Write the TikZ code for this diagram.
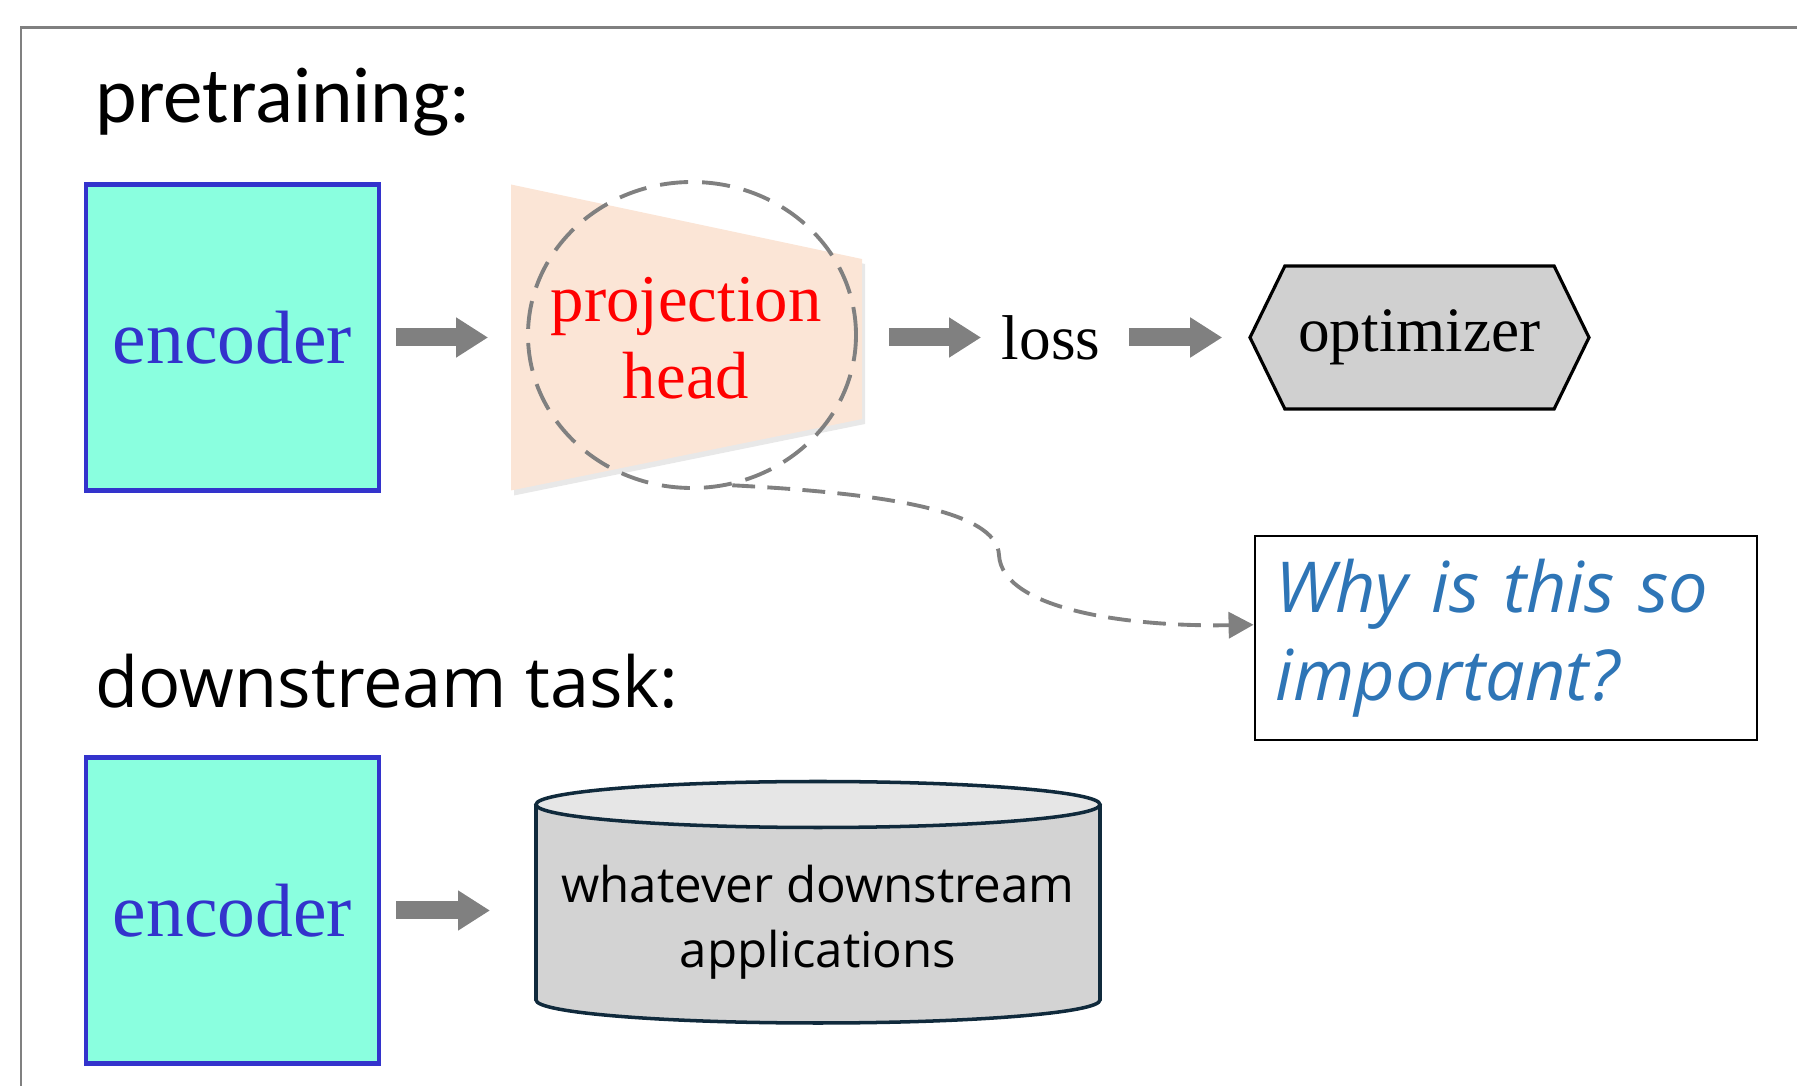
\documentclass[tikz,border=0pt]{standalone}
\usepackage{fontspec}
\setmainfont{Liberation Serif}
\newfontfamily\calfont{Carlito}
\newfontfamily\aptfont{Open Sans}
\usetikzlibrary{arrows.meta, positioning, shapes, shadows, backgrounds}
\definecolor{encfill}{HTML}{8AFFDF}
\definecolor{encblue}{HTML}{3333CC}
\definecolor{peach}{HTML}{FBE5D6}
\definecolor{arrowgray}{HTML}{808080}
\definecolor{optgray}{HTML}{D0D0D0}
\definecolor{cylgray}{HTML}{D3D3D3}
\definecolor{cyltop}{HTML}{E6E6E6}
\definecolor{cylline}{HTML}{102A3C}
\definecolor{whyblue}{HTML}{2E75B6}

\begin{document}
\begin{tikzpicture}[
    enc/.style={draw=encblue, fill=encfill, line width=1.2pt,
                minimum width=2.93cm, minimum height=3.06cm,
                text=encblue, font=\fontsize{21.5}{26}\selectfont},
    flow/.style={-{Triangle[length=0.32cm, width=0.38cm]}, line width=0.18cm, arrowgray},
    heading/.style={anchor=base west, inner sep=0pt,
                    font=\calfont\fontsize{22.5}{27}\selectfont},
    serif/.style={inner sep=0pt, font=\fontsize{18}{21}\selectfont}]
    \useasboundingbox (0,0) rectangle (17.97,-10.86);
    \draw[arrowgray, line width=0.6pt] (0.21,-10.86) -- (0.21,-0.275) -- (17.97,-0.275);
    % pretraining
    \node[heading] (pre) at (0.95,-1.227) {pretraining:};
    \node[enc] (enc1) at (2.325,-3.375) {encoder};
    \fill[peach, drop shadow={shadow xshift=0.03cm, shadow yshift=-0.05cm, opacity=0.18}]
        (5.11,-1.845) -- (8.62,-2.59) -- (8.62,-4.19) -- (5.11,-4.905) -- cycle;
    \node[ellipse, draw=arrowgray, line width=1.1pt, dash pattern=on 8pt off 4pt,
          minimum width=3.28cm, minimum height=3.06cm, inner sep=0pt] (ring) at (6.92,-3.35) {};
    \node[align=center, text=red, font=\fontsize{19}{21.8}\selectfont] (proj) at (6.86,-3.38)
        {projection\\head};
    \node[serif] (loss) at (10.51,-3.375) {loss};
    \node[signal, signal to=west and east, signal pointer angle=128, draw, line width=0.9pt,
          fill=optgray, minimum width=3.39cm, minimum height=1.43cm, inner sep=0pt,
          font=\fontsize{18}{21}\selectfont] (opt) at (14.195,-3.375) {optimizer};
    \draw[flow, shorten <=0.15cm, shorten >=0.38cm] (enc1.east) -- (enc1.east -| ring.west);
    \draw[flow, shorten <=0.31cm, shorten >=0.20cm] (ring.east |- opt) -- (loss.west |- opt);
    \draw[flow, shorten <=0.28cm, shorten >=0.26cm] (loss.east |- opt) -- (opt.west);
    % question box
    \node[draw, line width=0.8pt, text width=4.61cm, inner xsep=0.205cm, minimum height=2.04cm,
          align=left, text=whyblue, font=\aptfont\itshape\fontsize{20}{25}\selectfont]
          (why) at (15.06,-6.38) {Why is this so\\important?};
    \coordinate (kink) at (9.99,-5.55);
    \draw[arrowgray, line width=1.1pt, dash pattern=on 6.5pt off 3.5pt,
          -{Triangle[length=0.25cm, width=0.26cm]}]
        (ring.285) .. controls (8.8,-4.93) and (9.97,-5.1) .. (kink)
        .. controls (10.02,-6.1) and (11.3,-6.27) .. (why.177);
    % downstream
    \node[heading, font=\aptfont\fontsize{20}{24}\selectfont] (down) at (0.95,-7.08) {downstream task:};
    \node[enc] (enc2) at (2.325,-9.105) {encoder};
    \fill[cylgray] (5.36,-8.045) -- (5.36,-10.0)
        arc[start angle=180, end angle=360, x radius=2.82, y radius=0.23] -- (11.0,-8.045) -- cycle;
    \draw[cylline, line width=1pt] (5.36,-8.045) -- (5.36,-10.0)
        arc[start angle=180, end angle=360, x radius=2.82, y radius=0.23] -- (11.0,-8.045);
    \filldraw[fill=cyltop, draw=cylline, line width=1pt] (8.18,-8.045) ellipse[x radius=2.82, y radius=0.23];
    \coordinate (cylleft) at (5.36,-9.105);
    \node[align=center, font=\aptfont\fontsize{14}{18.5}\selectfont] (apps) at (8.18,-9.22)
        {whatever downstream\\applications};
    \draw[flow, shorten <=0.15cm, shorten >=0.46cm] (enc2.east) -- (cylleft);
\end{tikzpicture}
\end{document}
